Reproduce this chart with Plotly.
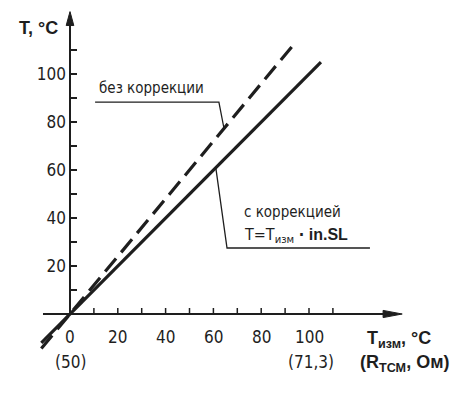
import plotly.graph_objects as go

# ---- data ----
t_meas_solid = [-12, 105]          # T_изм, °C  (with correction)
t_solid = [-12, 105]               # T, °C
t_meas_dash = [-12, 94.5]          # T_изм, °C  (without correction)
t_dash = [-14.4, 113.4]            # T, °C

x_major_vals = [0, 20, 40, 60, 80, 100]
x_major_text = ["0", "20", "40", "60", "80", "100"]
x_tick_marks = [10, 20, 30, 40, 50, 60, 70, 80, 90, 100, 110]
y_major_vals = [20, 40, 60, 80, 100]
y_major_text = ["20", "40", "60", "80", "100"]
y_minor_vals = [10, 30, 50, 70, 90, 110]

x_sub_labels = ["(50)", "(71,3)"]
x_sub_pos = [0, 101]

INK = "#1e1e1e"
NARROW = "Liberation Sans Narrow, Arial Narrow, DejaVu Sans Condensed, sans-serif"
BOLD = "Liberation Sans, Arial, Helvetica, sans-serif"

XR = [-20.92, 154.81]
YR = [-31.67, 126.67]
Y_PX = 2.4  # px per y unit

fig = go.Figure()
fig.add_trace(go.Scatter(x=t_meas_solid, y=t_solid, mode="lines",
                         line=dict(color=INK, width=3.2), showlegend=False,
                         hoverinfo="skip"))
fig.add_trace(go.Scatter(x=t_meas_dash, y=t_dash, mode="lines",
                         line=dict(color=INK, width=3.2, dash="17px,8px"),
                         showlegend=False, hoverinfo="skip"))

shapes = []
# axes lines
shapes.append(dict(type="line", xref="x", yref="y", x0=-11.3, y0=0, x1=132, y1=0,
                   line=dict(color=INK, width=2)))
shapes.append(dict(type="line", xref="x", yref="y", x0=0, y0=0, x1=0, y1=121,
                   line=dict(color=INK, width=2)))
# x tick marks (6 px up from the axis)
for xv in x_tick_marks:
    shapes.append(dict(type="line", xref="x", yref="y", x0=xv, y0=0,
                       x1=xv, y1=6 / Y_PX, line=dict(color=INK, width=1.5)))
# arrow heads
shapes.append(dict(type="path", xref="x", yref="y",
                   path="M 131,-1.5 L 139,0 L 131,1.5 Z",
                   fillcolor=INK, line=dict(color=INK, width=1)))
shapes.append(dict(type="path", xref="x", yref="y",
                   path="M -1.6,120.2 L 0,126 L 1.6,120.2 Z",
                   fillcolor=INK, line=dict(color=INK, width=1)))
# leader lines
shapes.append(dict(type="path", xref="x", yref="y",
                   path="M 10.5,88.3 L 62.3,88.3 L 64.4,77.5",
                   line=dict(color=INK, width=1.3)))
shapes.append(dict(type="path", xref="x", yref="y",
                   path="M 61,61 L 65.7,27.5 L 125.5,27.5",
                   line=dict(color=INK, width=1.3)))

ann = []
# x tick labels
for xv, xt in zip(x_major_vals, x_major_text):
    ann.append(dict(x=xv, y=-9.4, xref="x", yref="y", text=xt,
                    showarrow=False, xanchor="center", yanchor="middle",
                    font=dict(family=NARROW, size=17, color=INK)))
for lab, pos in zip(x_sub_labels, x_sub_pos):
    ann.append(dict(x=pos, y=-20.2, xref="x", yref="y", text=lab,
                    showarrow=False, xanchor="center", yanchor="middle",
                    font=dict(family=NARROW, size=17, color=INK)))
ann.append(dict(x=11.3, y=94.2, xref="x", yref="y", text="без коррекции",
                showarrow=False, xanchor="left", yanchor="middle",
                font=dict(family=NARROW, size=15, color=INK)))
ann.append(dict(x=72, y=42.5, xref="x", yref="y", text="с коррекцией",
                showarrow=False, xanchor="left", yanchor="middle",
                font=dict(family=NARROW, size=15, color=INK)))
ann.append(dict(x=72, y=32.9, xref="x", yref="y",
                text="T=T<sub>изм</sub> <b>·</b> <b><span style='font-family:Liberation Sans'>in.SL</span></b>",
                showarrow=False, xanchor="left", yanchor="middle",
                font=dict(family=NARROW, size=16, color=INK)))
ann.append(dict(x=-4.2, y=119.2, xref="x", yref="y", text="<b>T, °C</b>",
                showarrow=False, xanchor="right", yanchor="middle",
                font=dict(family=BOLD, size=18, color=INK)))
ann.append(dict(x=123.4, y=-10.8, xref="x", yref="y",
                text="<b>T<sub>изм</sub>, °C</b>",
                showarrow=False, xanchor="left", yanchor="middle",
                font=dict(family=BOLD, size=18, color=INK)))
ann.append(dict(x=120.5, y=-20.8, xref="x", yref="y",
                text="<b>(R<sub>ТСМ</sub>, Ом)</b>",
                showarrow=False, xanchor="left", yanchor="middle",
                font=dict(family=BOLD, size=18, color=INK)))

tick_common = dict(ticks="inside", ticklen=6, tickwidth=1.5, tickcolor=INK)

fig.update_layout(
    width=461, height=400,
    # page body has an 8px margin: shift the plot area up/left by 8px
    margin=dict(l=12, r=29, t=2, b=18),
    paper_bgcolor="white", plot_bgcolor="white",
    shapes=shapes, annotations=ann,
    xaxis=dict(range=XR, showgrid=False, zeroline=False, showline=False,
               showticklabels=False, ticks="", fixedrange=True),
    yaxis=dict(range=YR, showgrid=False, zeroline=False, showline=False,
               anchor="free", position=-XR[0] / (XR[1] - XR[0]), side="left",
               tickmode="array", tickvals=y_major_vals, ticktext=y_major_text,
               minor=dict(tickmode="array", tickvals=y_minor_vals, **tick_common),
               ticklabelstandoff=4, **tick_common,
               tickfont=dict(family=NARROW, size=17, color=INK), fixedrange=True),
)

fig.write_html("out.html")
